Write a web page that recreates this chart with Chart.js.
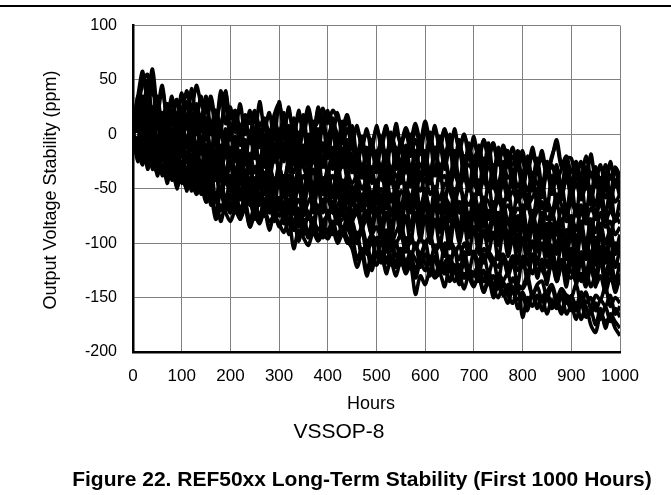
<!DOCTYPE html>
<html>
<head>
<meta charset="utf-8">
<script src="https://cdn.jsdelivr.net/npm/chart.js@4.4.1/dist/chart.umd.min.js"></script>
<style>
    html, body { margin: 0; padding: 0; background: #fff; }
    #wrap { width: 671px; height: 495px; }
</style>
</head>
<body>
<div id="wrap"><canvas id="stabilityChart" width="671" height="495"></canvas></div>
<script>
// Hours (x values shared by all units)
const hours = [
    0, 10, 20, 30, 40, 50, 60, 70, 80, 90,
    100, 110, 120, 130, 140, 150, 160, 170, 180, 190,
    200, 210, 220, 230, 240, 250, 260, 270, 280, 290,
    300, 310, 320, 330, 340, 350, 360, 370, 380, 390,
    400, 410, 420, 430, 440, 450, 460, 470, 480, 490,
    500, 510, 520, 530, 540, 550, 560, 570, 580, 590,
    600, 610, 620, 630, 640, 650, 660, 670, 680, 690,
    700, 710, 720, 730, 740, 750, 760, 770, 780, 790,
    800, 810, 820, 830, 840, 850, 860, 870, 880, 890,
    900, 910, 920, 930, 940, 950, 960, 970, 980, 990,
    1000
];

// Output voltage stability (ppm), one array per unit
const unit1 = [
    5, 22, 48, 55, 38, 30, 12, 28, 20, 32,
    18, 40, 22, 45, 28, 20, 35, 12, 30, 38,
    15, 22, 5, 18, 10, 22, 8, 15, 0, 18,
    28, 8, 20, 5, 14, 10, 25, 6, 12, 24,
    10, 22, 15, 8, 18, 0, 5, -10, 2, -8,
    5, -5, 8, -12, 3, -8, 6, -4, 10, -6,
    12, -5, 4, -8, 5, -10, 2, -12, 0, -15,
    -8, -20, -5, -18, -10, -25, -12, -20, -28, -15,
    -25, -35, -18, -30, -20, -35, -22, -5, -28, -20,
    -35, -25, -40, -20, -38, -30, -45, -28, -40, -30,
    -38
];
const unit2 = [
    0, 15, 35, 28, 45, 10, 20, 2, 15, -5,
    10, -8, 12, 0, 18, -5, 8, -10, 5, -12,
    2, -15, 8, -10, -2, -18, 5, -12, -5, 10,
    -15, 0, -20, -5, -12, 5, -18, -8, 2, -15,
    -5, -20, 0, -15, -8, -25, -18, -30, -20, -35,
    -22, -30, -15, -35, -20, -28, -12, -32, -18, -30,
    -20, -35, -15, -30, -22, -38, -25, -15, -32, -28,
    -35, -25, -42, -30, -38, -45, -28, -40, -35, -48,
    -40, -52, -38, -45, -55, -35, -50, -42, -58, -40,
    -55, -45, -60, -48, -52, -65, -42, -58, -50, -62,
    -55
];
const unit3 = [
    0, -10, -20, -5, -18, -30, -15, -25, -10, -22,
    -12, -25, -8, -20, -30, -18, -35, -22, -28, -40,
    -25, -35, -20, -38, -28, -15, -32, -25, -40, -22,
    -30, -42, -25, -35, -18, -30, -40, -22, -35, -28,
    -32, -20, -38, -28, -35, -45, -38, -50, -42, -55,
    -45, -38, -52, -42, -55, -40, -48, -58, -45, -52,
    -40, -55, -48, -60, -45, -52, -62, -50, -58, -65,
    -55, -68, -58, -62, -72, -60, -70, -65, -75, -68,
    -72, -65, -80, -70, -62, -78, -72, -85, -68, -80,
    -75, -88, -70, -82, -78, -90, -72, -85, -80, -92,
    -85
];
const unit4 = [
    0, 25, 15, 40, 5, -5, -20, -8, -25, -12,
    -20, -8, -28, -15, -30, -38, -25, -42, -30, -45,
    -38, -50, -35, -45, -55, -40, -48, -35, -52, -42,
    -48, -38, -55, -42, -50, -60, -45, -52, -40, -55,
    -45, -52, -38, -50, -58, -48, -60, -55, -65, -58,
    -62, -55, -68, -58, -65, -72, -60, -70, -62, -75,
    -65, -72, -60, -70, -78, -65, -75, -68, -80, -72,
    -78, -70, -85, -75, -82, -72, -88, -80, -92, -78,
    -85, -95, -80, -92, -88, -98, -85, -90, -100, -88,
    -95, -105, -90, -100, -110, -95, -105, -98, -112, -100,
    -105
];
const unit5 = [
    5, 12, 30, 8, 20, -10, 0, -20, -5, -25,
    -30, -18, -35, -25, -40, -55, -45, -62, -50, -58,
    -65, -52, -70, -58, -62, -75, -60, -68, -55, -72,
    -62, -75, -60, -70, -80, -65, -72, -78, -68, -82,
    -75, -70, -82, -78, -72, -88, -95, -85, -100, -92,
    -98, -90, -105, -95, -100, -92, -108, -98, -102, -110,
    -100, -95, -108, -102, -112, -98, -105, -115, -100, -110,
    -108, -118, -105, -112, -120, -108, -115, -125, -112, -118,
    -122, -115, -128, -118, -125, -132, -120, -128, -115, -130,
    -125, -135, -128, -140, -122, -138, -130, -145, -132, -140,
    -135
];
const unit6 = [
    0, -10, -18, -5, -25, -35, -28, -42, -32, -48,
    -38, -50, -42, -55, -48, -62, -58, -78, -65, -72,
    -80, -70, -78, -68, -85, -75, -82, -70, -80, -75,
    -82, -90, -78, -105, -88, -95, -102, -90, -98, -92,
    -96, -88, -100, -92, -98, -105, -122, -110, -130, -115,
    -120, -112, -125, -118, -130, -115, -128, -120, -147, -130,
    -138, -125, -132, -128, -140, -122, -135, -130, -142, -128,
    -138, -132, -145, -135, -142, -150, -138, -148, -155, -140,
    -168, -150, -158, -148, -162, -150, -160, -155, -165, -152,
    -162, -155, -170, -158, -175, -182, -165, -172, -168, -178,
    -185
];
const unit7 = [
    0, -5, 10, -12, 5, -18, -8, -25, -15, -30,
    -35, -22, -40, -30, -45, -38, -65, -55, -70, -60,
    -68, -58, -72, -62, -80, -65, -75, -60, -72, -68,
    -75, -65, -80, -70, -85, -78, -90, -82, -95, -85,
    -88, -80, -92, -85, -95, -100, -90, -112, -105, -125,
    -110, -118, -105, -115, -122, -108, -118, -112, -125, -110,
    -118, -125, -112, -120, -128, -115, -122, -130, -118, -125,
    -130, -122, -135, -128, -140, -132, -148, -138, -145, -152,
    -145, -155, -148, -160, -150, -145, -158, -152, -162, -148,
    -155, -162, -150, -160, -165, -155, -170, -158, -172, -160,
    -168
];
const unit8 = [
    10, 30, 52, 35, 60, 25, 45, 15, 30, 10,
    25, 5, 20, 0, 15, 28, 8, 22, 2, 40,
    5, 15, -5, 10, 0, 20, -8, 12, -2, 15,
    0, 15, -5, 12, -8, 5, 18, -2, 22, 8,
    -2, 10, 0, -8, 5, -12, -20, -8, -22, -12,
    -18, -8, -22, 0, -15, -25, -10, -20, -5, -18,
    5, -12, -20, -5, -18, -8, -25, -10, -22, -15,
    -22, -12, -28, -18, -8, -25, -15, -30, -20, -32,
    -35, -25, -40, -30, -22, -38, -28, -42, -32, -25,
    -45, -30, -42, -50, -35, -48, -40, -52, -38, -48,
    -45
];
const unit9 = [
    0, -12, 5, -15, -5, -22, -10, -28, -18, -25,
    -30, -20, -35, -25, -38, -30, -45, -38, -50, -42,
    -48, -55, -42, -58, -50, -62, -55, -48, -65, -58,
    -62, -55, -70, -85, -72, -80, -95, -78, -88, -80,
    -75, -85, -78, -92, -85, -80, -95, -88, -102, -95,
    -100, -92, -108, -98, -112, -105, -118, -108, -115, -122,
    -110, -120, -115, -128, -118, -112, -125, -120, -132, -125,
    -128, -135, -125, -138, -130, -142, -135, -128, -145, -138,
    -142, -135, -148, -140, -152, -145, -138, -150, -142, -155,
    -148, -158, -145, -155, -150, -162, -152, -158, -148, -165,
    -158
];
const unit10 = [
    0, 35, 18, 50, 10, 30, -5, 15, -10, 8,
    0, 15, -8, 10, -12, 5, -15, 2, -20, -5,
    -18, -5, -25, -10, -22, -12, -28, -15, -8, -25,
    -20, -8, -25, -12, -28, -15, -5, -22, -10, -28,
    -15, -25, -10, -22, -30, -18, -35, -28, -40, -30,
    -35, -28, -42, -30, -38, -45, -32, -40, -28, -42,
    -35, -45, -30, -42, -38, -50, -35, -48, -40, -52,
    -45, -55, -42, -52, -48, -58, -45, -60, -52, -62,
    -55, -65, -58, -50, -68, -60, -72, -55, -65, -75,
    -62, -72, -65, -78, -68, -75, -62, -80, -70, -78,
    -72
];
const unit11 = [
    0, 8, 25, -10, 15, -15, 5, -20, -2, -18,
    -8, -22, -5, -18, -28, -12, -25, -15, -32, -20,
    -28, -40, -25, -35, -45, -30, -38, -48, -32, -42,
    -35, -45, -30, -42, -50, -38, -45, -32, -48, -40,
    -45, -38, -50, -42, -55, -48, -58, -62, -52, -65,
    -58, -50, -62, -55, -68, -52, -60, -70, -58, -65,
    -55, -68, -60, -72, -58, -65, -75, -62, -70, -78,
    -68, -75, -82, -70, -78, -85, -72, -80, -88, -75,
    -82, -90, -78, -88, -95, -82, -92, -85, -98, -88,
    -92, -100, -88, -105, -95, -102, -90, -108, -98, -105,
    -100
];
const unit12 = [
    0, 5, -15, 10, -8, -20, -12, -30, -22, -40,
    -28, -48, -35, -52, -40, -30, -45, -35, -55, -42,
    -52, -45, -60, -50, -65, -55, -48, -62, -52, -70,
    -58, -65, -52, -68, -60, -72, -62, -55, -70, -65,
    -60, -72, -65, -58, -70, -78, -72, -85, -78, -92,
    -85, -95, -88, -100, -90, -82, -98, -92, -105, -95,
    -102, -92, -108, -98, -105, -95, -110, -102, -115, -105,
    -110, -102, -118, -108, -115, -122, -110, -120, -112, -125,
    -118, -128, -112, -125, -120, -130, -118, -135, -122, -128,
    -132, -120, -135, -125, -140, -128, -118, -135, -125, -145,
    -130
];
const unit13 = [
    8, 35, 58, 30, 50, 18, 42, 15, 35, 12,
    38, 10, 42, 15, 35, 8, 30, 5, 40, 10,
    25, 2, 28, 0, 22, -2, 30, 5, 20, -5,
    30, 2, 25, -5, 22, 0, 18, -5, 25, 2,
    22, 0, 20, -2, 15, -8, 8, -12, 5, -15,
    8, -12, 5, -15, 10, -10, 2, -15, 5, -10,
    10, -12, 8, -15, 5, -18, 5, -15, 0, -20,
    -2, -25, -5, -22, -8, -28, -10, -25, -12, -30,
    -15, -35, -12, -30, -15, -38, -20, -10, -30, -22,
    -22, -40, -25, -45, -18, -42, -28, -48, -25, -45,
    -35
];
const unit14 = [
    0, -15, 20, -5, 25, -10, 15, -15, 18, -12,
    20, -10, 15, -15, 10, -18, 12, -22, 5, -20,
    8, -25, 5, -28, 2, -22, 5, -30, 0, -25,
    5, -25, 8, -28, 2, -30, 0, -25, 5, -30,
    0, -32, -2, -30, -5, -35, -15, -40, -12, -45,
    -15, -42, -18, -45, -12, -40, -20, -48, -15, -42,
    -15, -45, -12, -42, -18, -48, -15, -45, -20, -50,
    -25, -55, -22, -52, -28, -58, -25, -55, -32, -60,
    -38, -68, -35, -65, -42, -70, -38, -65, -45, -72,
    -45, -75, -42, -72, -48, -78, -45, -75, -50, -80,
    -60
];
const unit15 = [
    0, -20, 5, -25, 0, -30, -5, -35, -10, -40,
    -12, -42, -18, -45, -25, -55, -30, -62, -35, -65,
    -38, -68, -35, -65, -40, -70, -38, -72, -42, -68,
    -40, -72, -38, -70, -42, -75, -40, -72, -45, -70,
    -40, -72, -42, -70, -45, -78, -52, -85, -55, -88,
    -55, -85, -58, -88, -55, -90, -60, -88, -58, -92,
    -60, -92, -62, -90, -65, -95, -62, -98, -68, -95,
    -70, -100, -72, -98, -75, -102, -78, -105, -80, -108,
    -80, -110, -82, -108, -85, -112, -88, -110, -85, -115,
    -88, -118, -90, -115, -92, -120, -88, -118, -95, -122,
    -105
];
const unit16 = [
    0, 10, -12, 30, -8, 15, -18, 5, -22, 2,
    -8, -25, 5, -20, -2, -30, -12, -35, -10, -42,
    -22, -45, -18, -40, -28, -50, -20, -48, -25, -52,
    -30, -50, -22, -45, -35, -55, -28, -52, -20, -48,
    -32, -55, -25, -50, -38, -58, -45, -62, -40, -68,
    -42, -65, -38, -62, -48, -70, -45, -65, -40, -72,
    -50, -75, -48, -70, -55, -78, -50, -72, -58, -80,
    -55, -80, -58, -78, -62, -85, -60, -82, -68, -88,
    -65, -90, -70, -88, -72, -95, -68, -92, -78, -100,
    -75, -98, -80, -102, -78, -105, -82, -100, -88, -108,
    -92
];
const unit17 = [
    0, -8, -25, -10, -30, -15, -38, -20, -42, -28,
    -45, -30, -52, -35, -55, -40, -62, -58, -80, -65,
    -72, -58, -78, -62, -85, -65, -80, -70, -88, -72,
    -85, -75, -92, -78, -98, -82, -90, -80, -95, -85,
    -92, -82, -98, -88, -100, -95, -115, -105, -125, -112,
    -120, -108, -128, -112, -118, -105, -125, -115, -132, -118,
    -125, -112, -130, -118, -122, -135, -120, -128, -118, -132,
    -128, -120, -135, -125, -140, -128, -135, -145, -132, -142,
    -140, -130, -148, -138, -135, -150, -140, -155, -142, -148,
    -150, -138, -155, -145, -160, -148, -152, -140, -158, -150,
    -155
];
const unit18 = [
    5, 25, 10, 45, 20, 35, 8, 28, 12, 32,
    10, 30, 5, 28, 12, 35, 0, 22, 8, 30,
    -5, 18, -10, 15, -8, 20, -12, 10, -15, 12,
    -10, 20, -12, 15, -8, 18, -15, 12, -10, 18,
    -12, 15, -10, 12, -18, 8, -20, -2, -25, -5,
    -28, -2, -25, 2, -30, -5, -28, 0, -22, -5,
    -25, 2, -22, -2, -28, 0, -25, -5, -30, -8,
    -35, -10, -32, -8, -38, -12, -35, -15, -40, -18,
    -45, -20, -42, -22, -48, -25, -45, -28, -50, -22,
    -55, -28, -52, -30, -58, -32, -50, -35, -55, -32,
    -50
];
const unit19 = [
    0, -18, 8, -15, 12, -20, 0, -25, -5, -28,
    -2, -25, -8, -30, -12, -35, -20, -42, -25, -45,
    -25, -48, -22, -50, -30, -52, -28, -55, -32, -58,
    -35, -58, -38, -60, -42, -65, -45, -68, -48, -72,
    -50, -72, -52, -75, -58, -80, -65, -88, -70, -92,
    -68, -95, -72, -98, -70, -95, -75, -100, -72, -98,
    -75, -100, -78, -102, -80, -105, -78, -100, -82, -108,
    -85, -110, -88, -108, -90, -115, -88, -112, -95, -118,
    -95, -120, -98, -118, -100, -122, -102, -125, -98, -128,
    -105, -130, -108, -128, -110, -132, -105, -130, -112, -135,
    -118
];
const unit20 = [
    0, -25, -5, -32, -12, -38, -18, -45, -22, -50,
    -25, -52, -28, -48, -35, -62, -48, -75, -52, -70,
    -55, -72, -50, -68, -58, -78, -55, -75, -62, -80,
    -65, -82, -60, -88, -68, -92, -72, -88, -65, -95,
    -70, -92, -68, -90, -75, -98, -95, -110, -100, -118,
    -95, -115, -92, -118, -98, -120, -95, -115, -100, -122,
    -98, -118, -102, -125, -100, -122, -105, -128, -108, -125,
    -108, -130, -110, -128, -115, -135, -112, -130, -118, -138,
    -112, -135, -110, -132, -115, -138, -110, -135, -118, -140,
    -112, -138, -115, -135, -118, -140, -112, -138, -120, -142,
    -128
];
const unit21 = [
    0, 20, -5, 35, 0, 25, -10, 18, -12, 20,
    -10, 15, -15, 10, -18, 12, -20, 8, -25, 5,
    -30, -5, -35, -8, -30, -10, -28, 0, -25, 5,
    -18, 12, -20, 8, -22, 10, -25, 5, -20, 12,
    -22, 5, -25, 2, -28, -5, -30, -10, -35, -12,
    -35, -8, -38, -5, -32, -10, -35, -2, -38, -8,
    -35, -5, -38, -8, -32, -12, -38, -10, -40, -15,
    -45, -18, -42, -20, -48, -15, -45, -22, -50, -25,
    -55, -28, -52, -30, -58, -25, -55, -32, -60, -30,
    -62, -35, -58, -30, -65, -40, -60, -35, -68, -42,
    -58
];
const unit22 = [
    0, -12, -28, -8, -32, -15, -35, -22, -40, -25,
    -35, -18, -40, -25, -45, -32, -50, -38, -55, -42,
    -52, -38, -58, -42, -62, -48, -65, -50, -68, -55,
    -62, -52, -70, -58, -75, -62, -78, -65, -72, -60,
    -75, -62, -80, -68, -85, -95, -100, -88, -110, -98,
    -112, -98, -118, -102, -122, -108, -125, -110, -128, -115,
    -118, -130, -112, -125, -120, -135, -125, -138, -128, -132,
    -140, -128, -145, -132, -150, -138, -145, -155, -140, -160,
    -148, -162, -145, -158, -150, -165, -152, -160, -148, -165,
    -158, -170, -155, -168, -162, -175, -160, -178, -165, -172,
    -178
];
const unit23 = [
    0, -5, 15, -18, 20, -12, 10, -22, 5, -18,
    0, -22, -2, -25, -8, -30, -12, -35, -15, -38,
    -12, -38, -15, -40, -18, -35, -22, -42, -25, -48,
    -28, -50, -25, -52, -30, -55, -28, -58, -32, -55,
    -35, -58, -38, -62, -40, -65, -45, -70, -48, -72,
    -48, -72, -50, -75, -52, -78, -55, -72, -58, -80,
    -60, -82, -58, -85, -62, -80, -65, -88, -60, -85,
    -65, -88, -68, -90, -70, -92, -72, -95, -75, -98,
    -75, -98, -78, -100, -80, -102, -82, -105, -80, -108,
    -85, -110, -82, -108, -88, -112, -90, -115, -88, -110,
    -95
];
const unit24 = [
    0, 15, -10, 20, -8, 10, -15, 15, -10, 18,
    -8, 15, -5, 20, -12, 8, -18, 5, -20, 0,
    -25, -2, -28, -5, -30, 0, -32, -5, -28, -8,
    -35, -8, -32, -5, -38, -10, -35, -12, -30, -8,
    -38, -12, -40, -15, -42, -20, -45, -28, -50, -30,
    -52, -28, -55, -30, -50, -25, -55, -32, -58, -35,
    -58, -35, -60, -32, -62, -38, -58, -40, -65, -42,
    -68, -42, -70, -45, -72, -48, -68, -50, -75, -52,
    -78, -55, -80, -58, -82, -60, -78, -62, -85, -65,
    -88, -65, -90, -68, -92, -70, -88, -72, -95, -75,
    -82
];

const units = [
    unit1, unit2, unit3, unit4, unit5, unit6, unit7, unit8,
    unit9, unit10, unit11, unit12, unit13, unit14, unit15, unit16,
    unit17, unit18, unit19, unit20, unit21, unit22, unit23, unit24
];

// Axis ticks
const xTicks = [0, 100, 200, 300, 400, 500, 600, 700, 800, 900, 1000];
const yTicks = [100, 50, 0, -50, -100, -150, -200];

const FONT = "'Liberation Sans', Arial, sans-serif";

// Captions and page rule, drawn on top
const captionPlugin = {
    id: 'captions',
    afterDraw(chart) {
        const c = chart.ctx;
        c.save();
        // page rule at top
        c.strokeStyle = '#000';
        c.lineWidth = 2;
        c.beginPath();
        c.moveTo(0, 6);
        c.lineTo(671, 6);
        c.stroke();

        c.fillStyle = '#000';
        c.textAlign = 'center';
        c.textBaseline = 'middle';

        c.font = `18px ${FONT}`;
        c.fillText('Hours', 371, 404);

        c.font = `21px ${FONT}`;
        c.fillText('VSSOP-8', 339, 432);

        c.font = `bold 21px ${FONT}`;
        c.fillText('Figure 22. REF50xx Long-Term Stability (First 1000 Hours)', 362, 480);

        // y axis title
        c.translate(51, 190);
        c.rotate(-Math.PI / 2);
        c.font = `18px ${FONT}`;
        c.fillText('Output Voltage Stability (ppm)', 0, 0);
        c.restore();
    }
};

const ctx = document.getElementById('stabilityChart');
new Chart(ctx, {
    type: 'line',
    data: {
        datasets: units.map((u, i) => ({
            label: 'Unit ' + (i + 1),
            data: u.map((v, k) => ({ x: hours[k], y: v })),
            borderColor: '#000',
            borderWidth: 3.6,
            pointRadius: 0,
            tension: 0.3,
            fill: false
        }))
    },
    options: {
        responsive: false,
        animation: false,
        events: [],
        layout: { padding: { top: 21, right: 51, left: 0, bottom: 0 } },
        plugins: {
            legend: { display: false },
            tooltip: { enabled: false }
        },
        scales: {
            x: {
                type: 'linear',
                min: 0,
                max: 1000,
                afterBuildTicks: (scale) => { scale.ticks = xTicks.map(v => ({ value: v })); },
                afterFit: (scale) => { scale.height = 143; },
                ticks: {
                    color: '#000',
                    font: { family: FONT, size: 17 },
                    padding: 14,
                    maxRotation: 0,
                    callback: (v) => String(v)
                },
                grid: { color: '#808080', lineWidth: 1, drawTicks: false },
                border: { color: '#000', width: 2.5 }
            },
            y: {
                min: -200,
                max: 100,
                afterBuildTicks: (scale) => { scale.ticks = yTicks.map(v => ({ value: v })); },
                afterFit: (scale) => { scale.width = 133; },
                ticks: {
                    color: '#000',
                    font: { family: FONT, size: 16 },
                    padding: 16,
                    callback: (v) => String(v)
                },
                grid: { color: '#808080', lineWidth: 1, drawTicks: false },
                border: { color: '#000', width: 2.5 }
            }
        }
    },
    plugins: [captionPlugin]
});
</script>
</body>
</html>
